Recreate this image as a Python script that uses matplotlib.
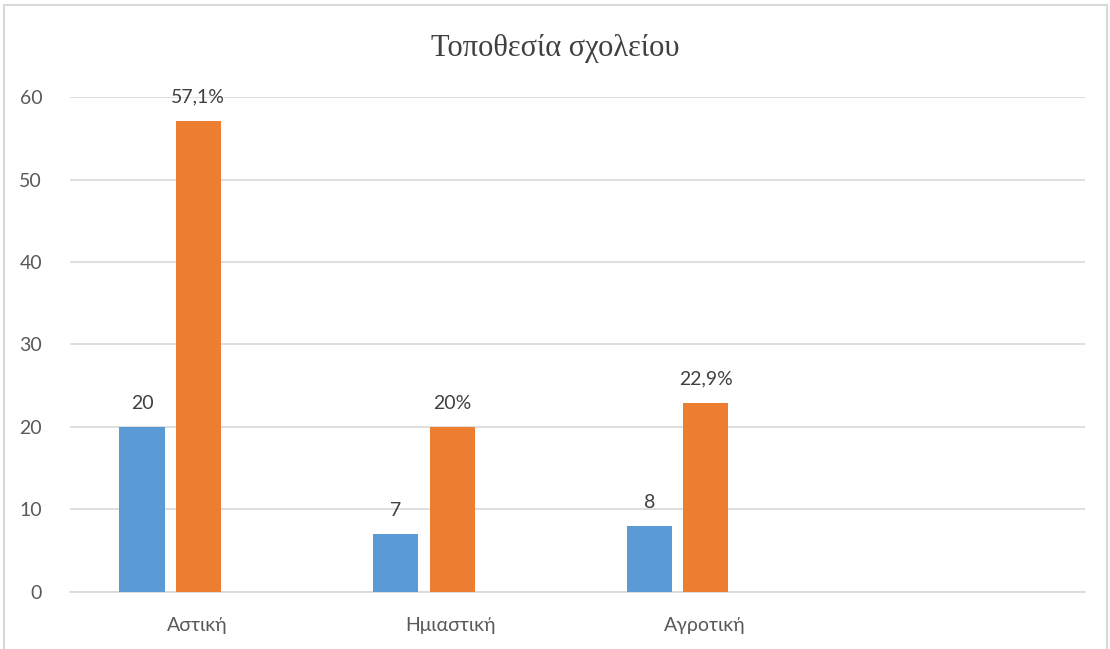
import numpy as np
import matplotlib.pyplot as plt
from matplotlib.patches import Rectangle

# data
categories = ["Αστική", "Ημιαστική", "Αγροτική", ""]
counts = [20, 7, 8]
percents = [57.1, 20, 22.9]
count_labels = ["20", "7", "8"]
percent_labels = ["57,1%", "20%", "22,9%"]

blue = "#5B9BD5"
orange = "#ED7D31"
text_col = "#404040"

fig = plt.figure(figsize=(11.1, 6.49), dpi=100)
ax = fig.add_axes([0.063, 0.088, 0.9145, 0.7625])

x = np.arange(len(categories))
w = 0.178
off_blue = -0.216
off_orange = 0.006

b1 = ax.bar(x[:3] + off_blue, counts, width=w, color=blue, zorder=3)
b2 = ax.bar(x[:3] + off_orange, percents, width=w, color=orange, zorder=3)

for bars, labels in [(b1, count_labels), (b2, percent_labels)]:
    for bar, lab in zip(bars, labels):
        ax.annotate(lab, (bar.get_x() + bar.get_width() / 2, bar.get_height()),
                    xytext=(0, 11), textcoords="offset points",
                    ha="center", va="bottom", fontsize=14,
                    color=text_col, family="Lato")

ax.set_xlim(-0.5, 3.5)
ax.set_ylim(0, 60)
ax.set_yticks(range(0, 61, 10))
ax.set_xticks(x)
ax.set_xticklabels(categories)
ax.tick_params(length=0, labelsize=14, labelcolor="#595959")
ax.tick_params(axis="x", pad=18)
ax.tick_params(axis="y", pad=20)
for lab in ax.get_xticklabels() + ax.get_yticklabels():
    lab.set_family("Lato")

ax.grid(axis="y", color="#D9D9D9", linewidth=1.2, zorder=0)
for s in ["top", "right", "left"]:
    ax.spines[s].set_visible(False)
ax.spines["bottom"].set_color("#D9D9D9")
ax.spines["bottom"].set_linewidth(1.2)

fig.text(0.5, 0.925, "Τοποθεσία σχολείου", ha="center", va="center",
         fontsize=22, family="Liberation Serif", color=text_col)

# light frame around the chart
fig.patches.append(Rectangle((0.004, -0.01), 0.993, 1.002, transform=fig.transFigure,
                             fill=False, edgecolor="#D9D9D9", linewidth=1.5))

fig.savefig("out.png", dpi=100)
